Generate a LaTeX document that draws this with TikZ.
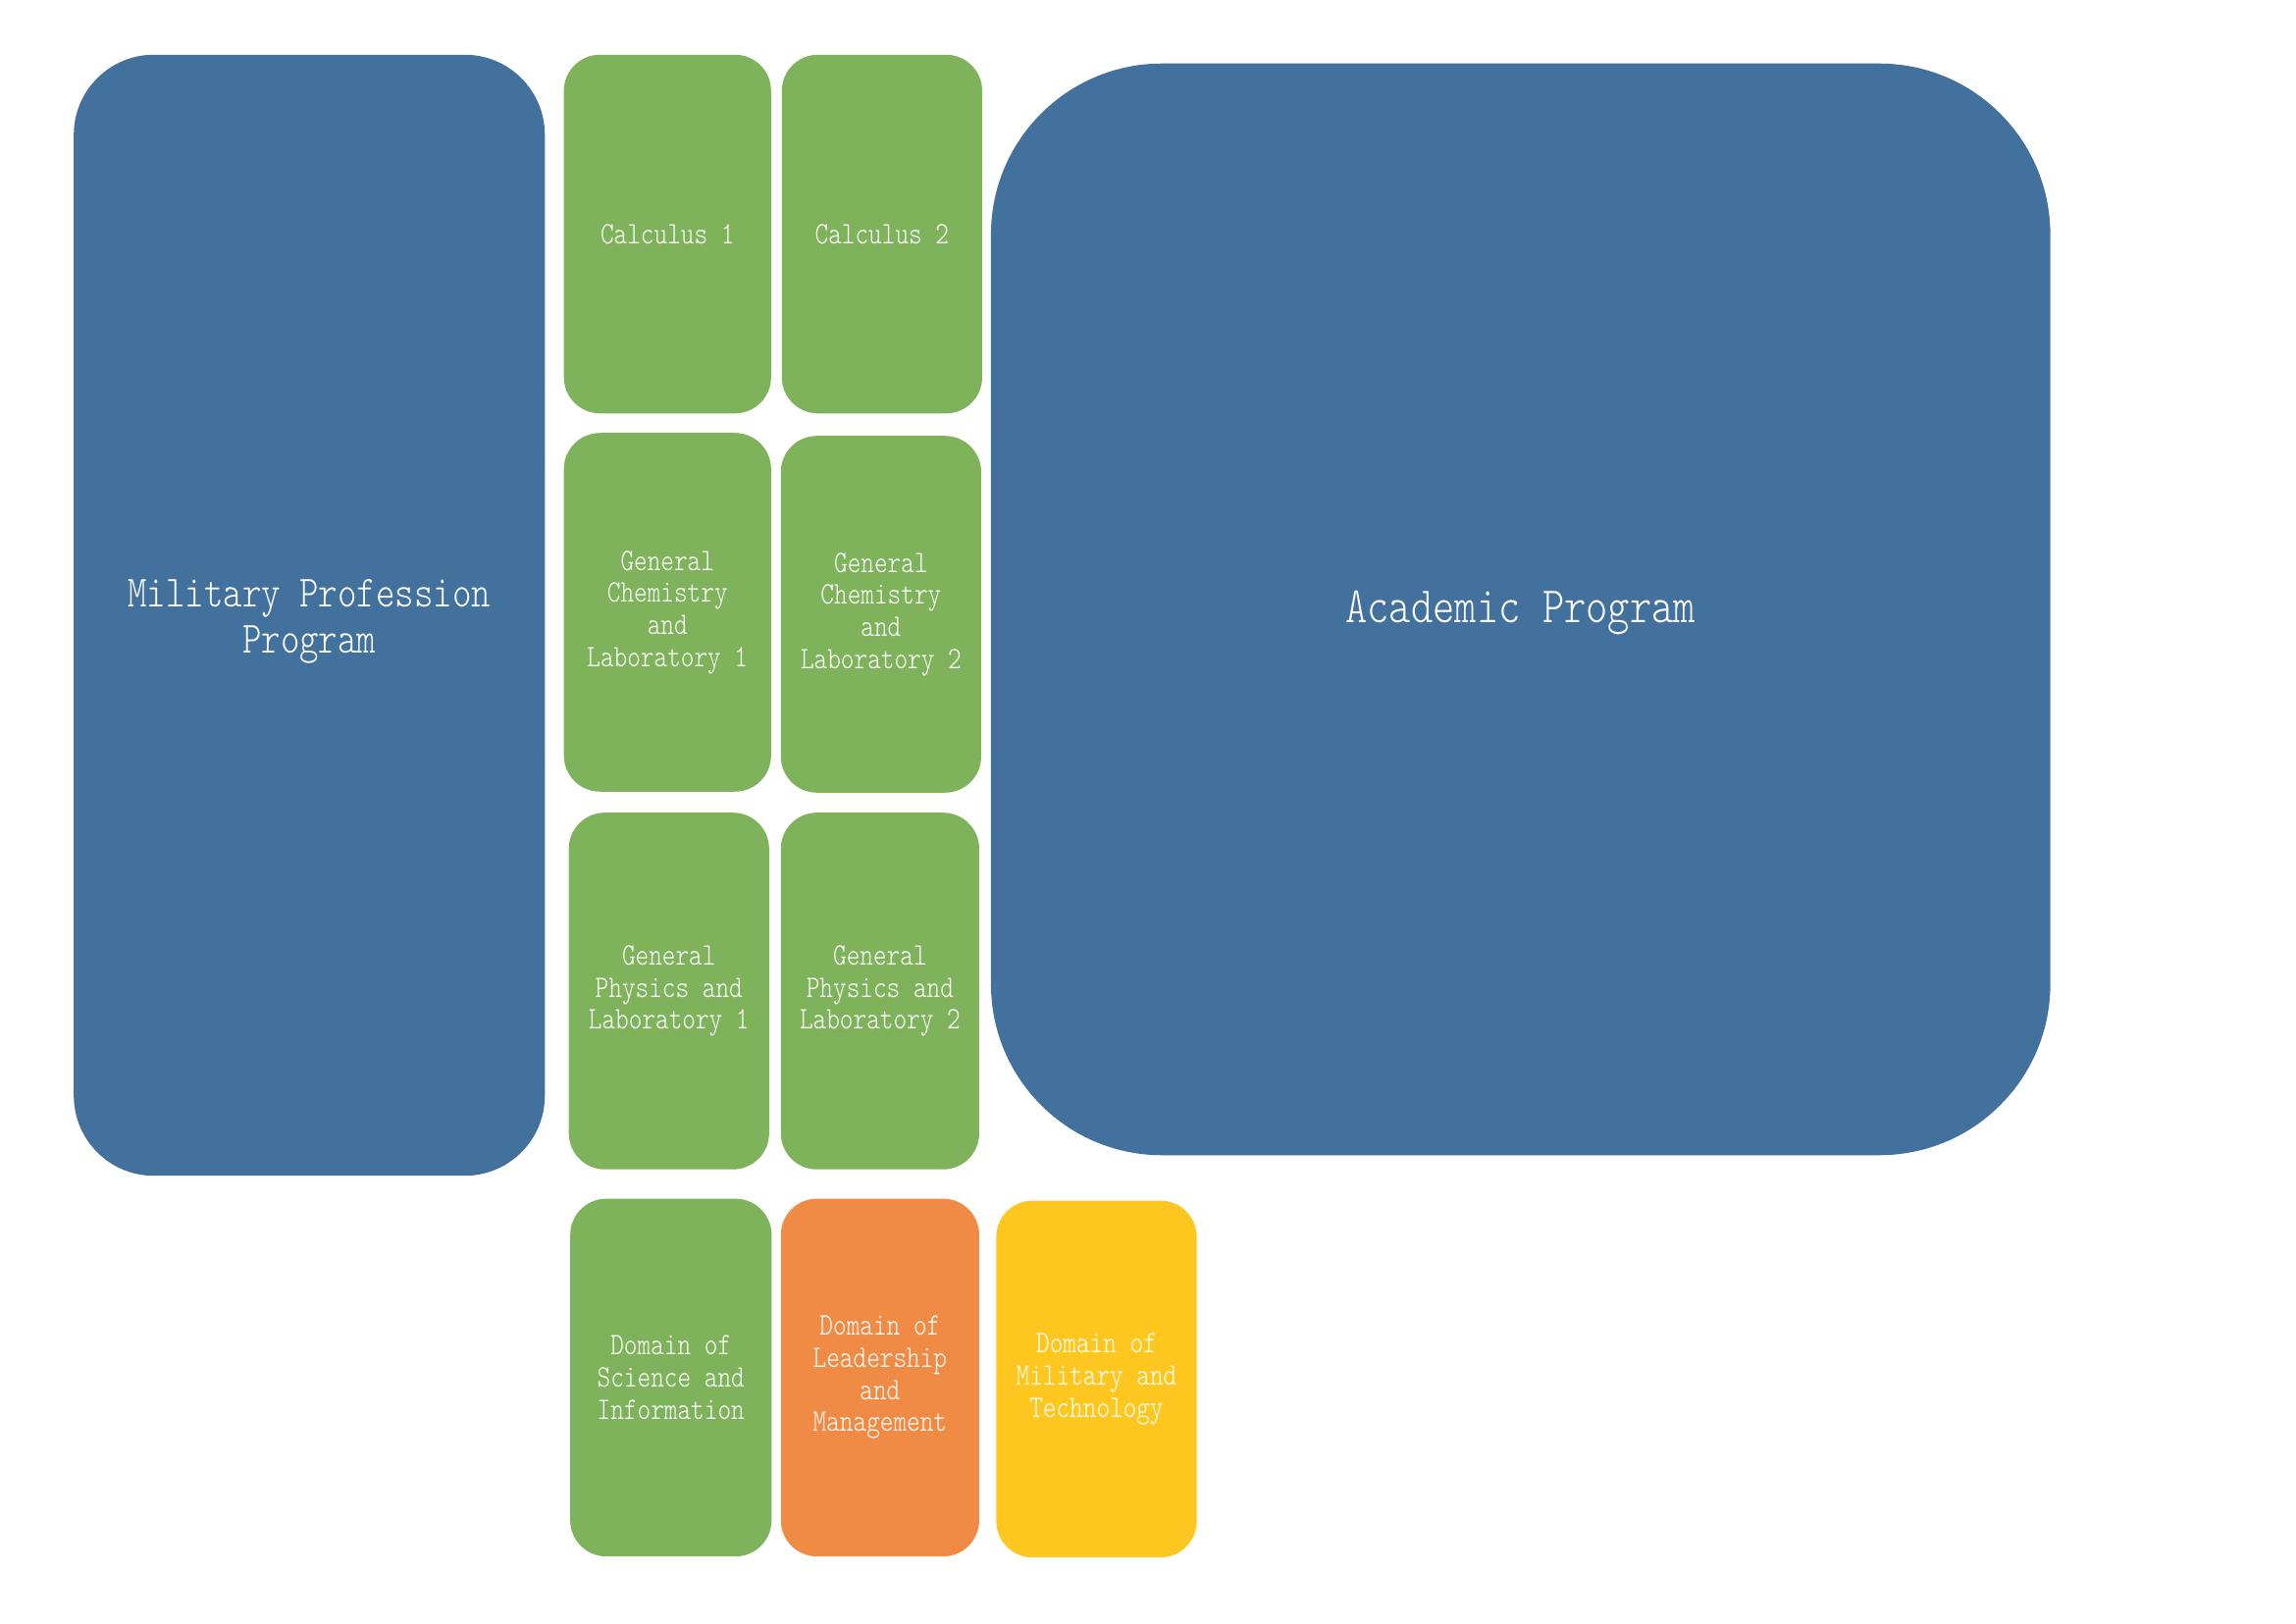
\documentclass[tikz,border=0pt]{standalone}
\usepackage{fontspec}
\newfontfamily\boxfont{lmmonolt10-regular.otf}[FakeStretch=0.817]
\definecolor{progblue}{HTML}{41719C}
\definecolor{sgreen}{HTML}{7FB35B}
\definecolor{sorange}{HTML}{F08B46}
\definecolor{syellow}{HTML}{FEC71F}
\begin{document}
\begin{tikzpicture}[x=0.36pt,y=-0.36pt,
  tile/.style={rounded corners=13.3pt, inner sep=0pt, align=center, text=white,
    font=\boxfont\fontsize{11.5}{11.8}\selectfont},
  bigtile/.style={inner sep=0pt, fill=progblue},
  bigtext/.style={align=center, text=white, inner sep=0pt},
  gtile/.style={tile, fill=sgreen},
  otile/.style={tile, fill=sorange},
  ytile/.style={tile, fill=syellow}]
\useasboundingbox (0,0) rectangle (2349.4,1661.6);
\fill[white] (0,0) rectangle (2349.4,1661.6);
% big blue boxes
\node[bigtile, rounded corners=29.5pt, minimum width={482*0.36pt}, minimum height={1147*0.36pt},
  label={[bigtext, yshift=-2.2pt, font=\boxfont\fontsize{16.4}{16.9}\selectfont]center:Military Profession\\Program}]
  (mil) at (316.5,629.5) {};
\node[bigtile, rounded corners=63pt, minimum width={1084*0.36pt}, minimum height={1117*0.36pt},
  label={[bigtext, yshift=-1.1pt, font=\boxfont\fontsize{18.8}{19}\selectfont]center:Academic Program}]
  (acad) at (1556,623.5) {};
% green column boxes
\node[gtile, minimum width={212*0.36pt}, minimum height={367*0.36pt}] (calc1) at (683,239.5) {Calculus 1};
\node[gtile, minimum width={205*0.36pt}, minimum height={367*0.36pt}] (calc2) at (902.5,239.5) {Calculus 2};
\node[gtile, minimum width={212*0.36pt}, minimum height={367*0.36pt}] (chem1) at (683,626.5) {General\\Chemistry\\and\\Laboratory 1};
\node[gtile, minimum width={205*0.36pt}, minimum height={365*0.36pt}] (chem2) at (901.5,628.5) {General\\Chemistry\\and\\Laboratory 2};
\node[gtile, minimum width={205*0.36pt}, minimum height={365*0.36pt}] (phys1) at (684.5,1014) {General\\Physics and\\Laboratory 1};
\node[gtile, minimum width={203*0.36pt}, minimum height={365*0.36pt}] (phys2) at (900.5,1014) {General\\Physics and\\Laboratory 2};
% domain boxes
\node[gtile, minimum width={206*0.36pt}, minimum height={366*0.36pt}] (sci) at (686.5,1409.5) {Domain of\\Science and\\Information};
\node[otile, minimum width={203*0.36pt}, minimum height={366*0.36pt}] (lead) at (900.5,1409.5) {Domain of\\Leadership\\and\\Management};
\node[ytile, minimum width={205*0.36pt}, minimum height={365*0.36pt}] (mtech) at (1122,1411) {Domain of\\Military and\\Technology};
\end{tikzpicture}
\end{document}
